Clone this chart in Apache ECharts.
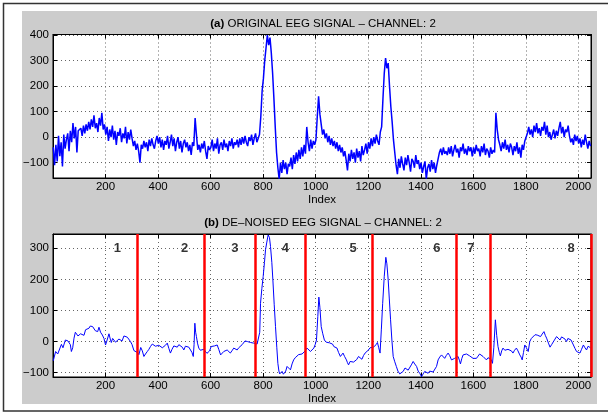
<!DOCTYPE html>
<html><head><meta charset="utf-8">
<script src="https://cdn.jsdelivr.net/npm/echarts@6/dist/echarts.min.js"></script>
<style>html,body{margin:0;padding:0;background:#fff}#c{width:608px;height:414px}</style>
</head><body><div id="c"></div>
<script>
// ---------- data ----------
const topStep = 5; // sample spacing (index units) of the original-signal readings
const topValues = [
  -40,-110,-30,-95,5,-75,-20,-115,10,-45,-10,15,-55,25,-20,55,-5,40,-60,25,
  20,35,5,45,15,50,25,60,30,70,40,85,35,55,20,75,45,95,30,50,
  10,40,-15,30,0,45,-10,25,-30,20,5,35,-20,15,-5,40,-25,20,-10,30,
  -5,-35,-15,-50,-25,-55,-100,-30,-45,-15,-40,-20,-55,-10,-35,-5,-30,-45,-15,5,
  -25,0,-40,-10,-50,-15,-30,5,-45,-20,10,-35,-5,-55,-20,0,-45,-15,-60,-25,
  -10,-40,-20,-55,-30,-70,-20,-35,75,10,-50,-30,-60,-25,-45,-15,-55,-85,-35,-50,
  -40,-10,-55,-25,-45,-5,-65,-30,-20,-50,-10,-40,-25,-55,-15,-35,-5,-45,-20,-30,
  -10,-40,-5,-30,0,-25,5,-20,-35,0,-15,10,-30,-5,15,-20,-5,10,80,180,
  230,300,350,400,360,390,330,250,150,40,-60,-120,-165,-100,-140,-90,-125,-100,-145,-105,
  -115,-80,-125,-70,-105,-60,-95,-50,-85,-40,-75,-30,-65,40,-20,-55,-10,-45,-15,-30,
  -10,80,160,90,50,10,30,-5,15,-20,5,-30,-5,-35,-15,-45,-20,-55,-30,-60,
  -40,-75,-55,-90,-130,-65,-95,-50,-85,-60,-100,-45,-80,-55,-95,-35,-70,-50,-25,-65,
  -20,-45,-5,-35,0,-25,10,-15,-30,20,40,150,250,310,270,290,200,120,60,-10,
  -60,-110,-145,-85,-120,-75,-105,-130,-80,-110,-70,-100,-135,-85,-95,-120,-70,-105,-90,-125,
  -100,-140,-115,-95,-165,-120,-105,-135,-90,-125,-100,-140,-110,-85,-60,-45,-70,-40,-65,-55,
  -70,-40,-65,-35,-75,-50,-30,-60,-45,-80,-40,-55,-25,-65,-45,-70,-35,-55,-40,-75,
  -40,-65,-30,-55,-45,-75,-35,-60,-25,-70,-45,-55,-80,-40,-65,-50,-60,95,30,-10,
  -30,-55,-20,-45,-10,-50,-30,-60,-25,-40,-70,-35,-55,-20,-65,-40,-80,-30,-50,-15,
  -20,15,40,10,30,0,45,20,55,15,35,5,40,25,60,10,45,0,20,-10,
  10,30,-5,25,5,35,60,15,40,0,30,20,45,5,-20,-5,-30,10,-15,5,
  -25,-5,-40,-10,-30,10,-20,-45,-15,-35
];
const bottomIndex = [
  1,4,10,18,23,32,38,42,47,52,57,61,66,70,75,80,85,90,95,99,
  105,112,118,124,130,137,142,146,151,156,161,166,170,175,181,188,194,200,206,213,
  218,222,227,232,238,245,251,257,263,270,276,283,289,295,301,308,314,321,327,334,
  340,346,352,359,365,371,378,384,390,397,403,410,416,422,428,435,441,447,453,460,
  466,473,479,486,492,498,504,511,517,524,529,534,537,540,543,546,550,555,561,568,
  574,581,586,591,596,602,608,615,620,625,631,638,644,650,657,663,669,675,681,688,
  694,701,707,713,720,726,731,735,740,745,752,758,764,771,777,783,787,790,795,800,
  805,809,814,819,824,828,833,837,842,847,852,856,860,863,868,872,877,881,886,891,
  897,904,910,916,922,929,935,942,948,954,960,967,974,980,987,993,998,1003,1008,1012,
  1016,1021,1027,1033,1040,1046,1052,1059,1064,1069,1075,1081,1087,1094,1099,1104,1110,1117,1121,1125,
  1131,1138,1144,1150,1156,1163,1169,1176,1182,1188,1194,1201,1207,1214,1220,1226,1230,1235,1240,1245,
  1250,1255,1261,1267,1271,1276,1280,1285,1290,1295,1301,1307,1313,1320,1326,1333,1340,1346,1352,1358,
  1364,1371,1377,1384,1390,1396,1403,1409,1415,1421,1428,1434,1441,1447,1453,1460,1466,1472,1479,1485,
  1491,1497,1504,1510,1517,1523,1529,1536,1542,1547,1551,1556,1561,1567,1574,1580,1586,1592,1599,1605,
  1612,1618,1624,1630,1637,1643,1650,1656,1663,1668,1673,1678,1684,1689,1694,1699,1703,1708,1713,1720,
  1726,1732,1739,1745,1751,1757,1764,1770,1777,1782,1786,1791,1796,1802,1809,1815,1821,1828,1835,1843,
  1849,1856,1862,1869,1874,1879,1886,1892,1898,1905,1911,1917,1923,1930,1936,1943,1949,1955,1960,1965,
  1972,1981,1987,1993,2000,2006,2012,2019,2025,2031,2037,2042,2046
];
const bottomValues = [
  -62,-59,-32,-40,-37,-9,-20,-16,5,11,2,8,-10,-32,-20,11,30,27,18,16,
  25,27,20,38,32,43,50,56,48,43,35,40,32,46,30,21,10,-11,5,25,
  8,-3,10,11,-2,0,8,5,2,18,16,14,8,0,-10,-29,-26,-35,-42,-19,
  -30,-48,-40,-32,-25,-16,-8,-3,-15,-21,-12,-14,-20,-25,-12,-5,-22,-37,-25,-14,
  -20,-18,-10,-5,-18,-27,-15,-11,-18,-21,-35,-48,-10,59,30,16,-5,-21,-28,-32,
  -25,-27,-38,-43,-30,-16,-12,-14,-8,-11,-25,-43,-38,-32,-36,-27,-30,-37,-30,-21,
  -18,-27,-20,-14,-10,-5,2,8,0,-5,-3,-3,-5,0,-8,-14,30,123,170,209,
  255,295,320,343,335,306,255,198,120,48,-20,-70,-95,-104,-100,-96,-105,-107,-95,-80,
  -85,-91,-72,-59,-52,-48,-42,-37,-40,-43,-30,-21,-25,-32,-28,-21,-10,5,80,143,
  110,48,25,5,-2,-8,-4,0,-8,-16,-12,-21,-35,-48,-42,-37,-48,-59,-68,-75,
  -64,-59,-66,-70,-58,-48,-52,-57,-45,-37,-33,-27,-20,-14,-18,-21,-10,-3,-20,-37,
  40,123,210,271,250,198,140,70,5,-48,-65,-80,-95,-104,-100,-96,-85,-80,-92,-89,
  -75,-64,-72,-80,-95,-102,-113,-104,-96,-100,-102,-95,-91,-98,-104,-80,-59,-50,-43,-48,
  -54,-45,-37,-45,-59,-55,-54,-50,-48,-60,-72,-55,-43,-42,-40,-44,-46,-50,-54,-52,
  -54,-47,-40,-44,-48,-52,-59,-52,-48,-58,-70,-20,70,20,-16,-35,-46,-30,-21,-28,
  -32,-25,-21,-30,-37,-28,-21,-30,-43,-50,-59,-35,-11,-20,-32,0,10,16,22,21,
  25,16,24,32,20,11,-5,-18,-10,-5,8,16,10,5,15,21,8,0,10,16,
  5,-11,-22,-32,-35,-37,-25,-11,-20,-27,-15,-16,-20
];
const segmentBounds = [320, 576, 768, 960, 1216, 1536, 1664, 2048];
const segmentNames = ['1', '2', '3', '4', '5', '6', '7', '8'];
const segmentLabelX = [245, 501, 692, 885, 1142, 1461, 1591, 1972];
const segmentLabelY = 300;
const xTickStep = 200;
const yTickStep = 100;
const titleA = 'ORIGINAL EEG SIGNAL \u2013 CHANNEL: 2';
const titleB = 'DE\u2013NOISED EEG SIGNAL \u2013 CHANNEL: 2';
const xName = 'Index';

// ---------- chart ----------
const FONT = "'Liberation Sans', Arial, Helvetica, sans-serif";
const chart = echarts.init(document.getElementById('c'), null, {renderer: 'canvas'});

const fmtNum = v => (v < 0 ? '\u2212' + Math.abs(v) : String(v));
const grids = [
  {left: 53, top: 34.5, width: 538, height: 143.5},
  {left: 53, top: 234, width: 538, height: 143}
];
const yRanges = [[-160, 402], [-114, 346]];
const TICK_FS = 11.5;

function xMain(g) {
  return {
    type: 'value', gridIndex: g, min: 0, max: 2048, interval: xTickStep, position: 'bottom',
    axisLine: {show: true, onZero: false, lineStyle: {color: '#000', width: 1}},
    axisTick: {show: true, inside: true, length: 4, lineStyle: {color: '#000'}},
    axisLabel: {show: true, color: '#000', fontSize: TICK_FS, fontFamily: FONT, margin: 3,
      formatter: v => (v > 0 && v % xTickStep === 0) ? String(v) : ''},
    splitLine: {show: true, lineStyle: {color: '#666', type: [1, 3], width: 1}},
    name: xName, nameLocation: 'middle', nameGap: 14,
    nameTextStyle: {color: '#000', fontSize: TICK_FS, fontFamily: FONT}
  };
}
function xMirror(g) {
  return {
    type: 'value', gridIndex: g, min: 0, max: 2048, interval: xTickStep, position: 'top',
    axisLine: {show: true, onZero: false, lineStyle: {color: '#000', width: 1}},
    axisTick: {show: true, inside: true, length: 4, lineStyle: {color: '#000'}},
    axisLabel: {show: false}, splitLine: {show: false}
  };
}
function yMain(g) {
  return {
    type: 'value', gridIndex: g, min: yRanges[g][0], max: yRanges[g][1], splitNumber: 5, position: 'left',
    axisLine: {show: true, onZero: false, lineStyle: {color: '#000', width: 1}},
    axisTick: {show: true, inside: true, length: 4, lineStyle: {color: '#000'}},
    axisLabel: {show: true, color: '#000', fontSize: TICK_FS, fontFamily: FONT, margin: 4,
      formatter: v => (v % yTickStep === 0) ? fmtNum(v) : ''},
    splitLine: {show: true, lineStyle: {color: '#666', type: [1, 3], width: 1}}
  };
}
function yMirror(g) {
  return {
    type: 'value', gridIndex: g, min: yRanges[g][0], max: yRanges[g][1], splitNumber: 5, position: 'right',
    axisLine: {show: true, onZero: false, lineStyle: {color: '#000', width: 1}},
    axisTick: {show: true, inside: true, length: 4, lineStyle: {color: '#000'}},
    axisLabel: {show: false}, splitLine: {show: false}
  };
}

const topData = topValues.map((v, i) => [1 + i * topStep, v]);
const bottomData = bottomIndex.map((x, i) => [x, bottomValues[i]]);
const labelData = segmentNames.map((n, i) => ({name: n, value: [segmentLabelX[i], segmentLabelY]}));

const TITLE_FS = 11.5;
const option = {
  animation: false,
  backgroundColor: '#ffffff',
  textStyle: {fontFamily: FONT},
  graphic: [
    {type: 'rect', z: -10, silent: true, shape: {x: 3.5, y: 3.5, width: 640, height: 407.5},
      style: {fill: '#ffffff', stroke: '#333', lineWidth: 1.5}},
    {type: 'rect', z: -9, silent: true, shape: {x: 22, y: 11, width: 575, height: 393},
      style: {fill: '#cccccc'}},
    {type: 'text', z: 10, silent: true, x: 323, y: 24,
      style: {text: '{b|(a)} ' + titleA, fontSize: TITLE_FS, fontFamily: FONT, fill: '#000',
        align: 'center', verticalAlign: 'middle',
        rich: {b: {fontWeight: 'bold', fontSize: TITLE_FS, fontFamily: FONT, fill: '#000'}}}},
    {type: 'text', z: 10, silent: true, x: 323, y: 223,
      style: {text: '{b|(b)} ' + titleB, fontSize: TITLE_FS, fontFamily: FONT, fill: '#000',
        align: 'center', verticalAlign: 'middle',
        rich: {b: {fontWeight: 'bold', fontSize: TITLE_FS, fontFamily: FONT, fill: '#000'}}}}
  ],
  grid: grids.map(g => Object.assign({show: true, backgroundColor: '#ffffff', borderColor: '#000', borderWidth: 1, containLabel: false}, g)),
  xAxis: [xMain(0), xMirror(0), xMain(1), xMirror(1)],
  yAxis: [yMain(0), yMirror(0), yMain(1), yMirror(1)],
  series: [
    {type: 'line', xAxisIndex: 0, yAxisIndex: 0, data: topData, showSymbol: false, symbol: 'none',
      lineStyle: {color: '#0000ff', width: 1.5}, clip: true, silent: true},
    {type: 'line', xAxisIndex: 2, yAxisIndex: 2, data: bottomData, showSymbol: false, symbol: 'none',
      lineStyle: {color: '#0000ff', width: 1}, clip: true, silent: true,
      markLine: {symbol: ['none', 'none'], silent: true, label: {show: false},
        lineStyle: {color: '#ff0000', width: 2.5, type: 'solid'},
        emphasis: {disabled: true},
        data: segmentBounds.map(x => ({xAxis: x}))}},
    {type: 'scatter', xAxisIndex: 2, yAxisIndex: 2, data: labelData, symbolSize: 0, silent: true,
      label: {show: true, position: 'inside', formatter: '{b}', color: '#000', fontWeight: 'bold', fontSize: 13, fontFamily: FONT}}
  ]
};
chart.setOption(option);
</script></body></html>
